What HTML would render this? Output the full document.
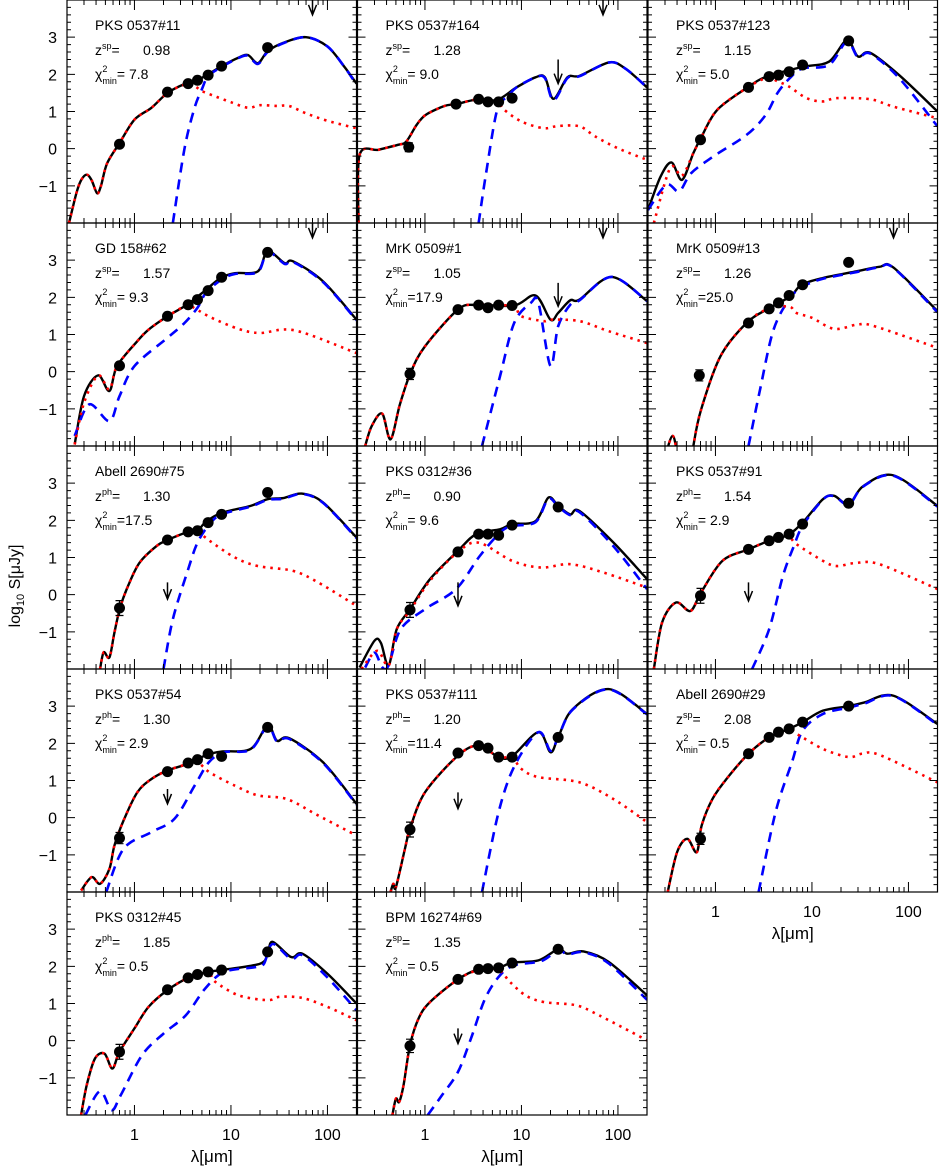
<!DOCTYPE html>
<html><head><meta charset="utf-8"><title>SED fits</title>
<style>
html,body{margin:0;padding:0;background:#fff;}
svg{display:block;font-family:"Liberation Sans","DejaVu Sans",sans-serif;}
</style></head>
<body>
<svg id="chart" width="940" height="1172" viewBox="0 0 940 1172" xmlns="http://www.w3.org/2000/svg">
<g id="layer"></g>
<text transform="translate(20,586) rotate(-90)" text-anchor="middle" font-size="16">log<tspan font-size="11" dy="4">10</tspan><tspan dy="-4"> S[μJy]</tspan></text>
</svg>
<script>
const names=["PKS 0537#11","PKS 0537#164","PKS 0537#123","GD 158#62","MrK 0509#1","MrK 0509#13","Abell 2690#75","PKS 0312#36","PKS 0537#91","PKS 0537#54","PKS 0537#111","Abell 2690#29","PKS 0312#45","BPM 16274#69"];
const zTypes=["sp","sp","sp","sp","sp","sp","ph","ph","ph","ph","ph","sp","ph","sp"];
const zVals=["0.98","1.28","1.15","1.57","1.05","1.26","1.30","0.90","1.54","1.30","1.20","2.08","1.85","1.35"];
const chiVals=[" 7.8"," 9.0"," 5.0"," 9.3","17.9","25.0","17.5"," 9.6"," 2.9"," 2.9","11.4"," 0.5"," 0.5"," 0.5"];
const yTicks=[-1,0,1,2,3];
const yTickLabels=["−1","0","1","2","3"];
const xTicks=[1,10,100];
const xTickLabels=["1","10","100"];

const blk1=[[0.21,-2],[0.25,-1.2],[0.28,-0.85],[0.32,-0.7],[0.36,-0.85],[0.41,-1.2],[0.45,-1.0],[0.52,-0.4],[0.7,0.15],[1.0,0.78],[1.5,1.1],[2.2,1.5],[3.3,1.74],[4.5,1.85],[5.8,2.0],[8,2.22],[12,2.45],[15,2.52],[19,2.3],[24,2.62],[35,2.85],[60,3.0],[100,2.75],[150,2.2],[200,1.75]];
const red1=[[0.21,-2],[0.25,-1.2],[0.28,-0.85],[0.32,-0.7],[0.36,-0.85],[0.41,-1.2],[0.45,-1.0],[0.52,-0.4],[0.7,0.15],[1.0,0.78],[1.5,1.1],[2.2,1.5],[3.3,1.72],[4.2,1.68],[5,1.55],[7,1.4],[10,1.25],[15,1.1],[20,1.17],[30,1.15],[40,1.15],[60,0.95],[100,0.75],[200,0.55]];
const blu1=[[2.5,-2],[3.3,0],[4.2,1.1],[5,1.6],[5.8,1.95],[8,2.2],[12,2.44],[15,2.5],[19,2.28],[24,2.6],[35,2.84],[60,3.0],[100,2.75],[150,2.2],[200,1.72]];
const pts1=[[0.7,0.12,0],[2.2,1.52,0],[3.6,1.75,0],[4.5,1.84,0],[5.8,1.98,0],[8,2.22,0],[24,2.72,0]];
const arr1=[[70,4.05,3.6]];

const blk2=[[0.205,-2],[0.21,-0.17],[0.33,-0.03],[0.52,0.1],[0.64,0.19],[0.82,0.64],[1.02,0.91],[1.6,1.15],[2.1,1.2],[3.6,1.33],[5.6,1.31],[8.9,1.65],[14,1.92],[17.5,1.92],[21.5,1.34],[30,1.92],[40,1.96],[81,2.32],[120,2.15],[200,1.65]];
const red2=[[0.205,-2],[0.21,-0.17],[0.33,-0.03],[0.52,0.1],[0.64,0.19],[0.82,0.64],[1.02,0.91],[1.6,1.15],[2.1,1.2],[3.6,1.33],[5.6,1.28],[6.6,1.05],[10,0.73],[17,0.55],[24,0.61],[40,0.6],[58,0.33],[100,0.01],[200,-0.3]];
const blu2=[[3.6,-2],[4.3,-0.66],[5.6,1.04],[7.2,1.4],[8.9,1.65],[14,1.92],[17.5,1.9],[21.5,1.3],[30,1.9],[40,1.95],[81,2.32],[120,2.15],[200,1.65]];
const pts2=[[0.68,0.04,0.12],[2.1,1.2,0],[3.6,1.33,0],[4.5,1.26,0],[5.8,1.26,0],[8,1.36,0]];
const arr2=[[70,4.05,3.6],[24,2.4,1.75]];

const blk3=[[0.2,-1.65],[0.27,-0.75],[0.35,-0.37],[0.45,-0.84],[0.59,-0.12],[0.72,0.33],[1.04,1.04],[2.1,1.63],[3.4,1.94],[8,2.2],[15,2.34],[23,2.92],[30,2.48],[40,2.58],[80,1.98],[200,1.0]];
const red3=[[0.23,-2],[0.34,-0.52],[0.45,-0.73],[0.59,-0.12],[0.72,0.33],[1.04,1.04],[2.1,1.63],[3.4,1.9],[4.5,1.8],[5.8,1.67],[8.8,1.36],[13,1.27],[18,1.36],[40,1.33],[70,1.13],[200,0.82]];
const blu3=[[0.2,-1.65],[0.31,-0.97],[0.42,-1.15],[0.56,-0.66],[0.95,-0.21],[2.1,0.37],[3.3,0.9],[4.4,1.5],[5.9,1.9],[8,2.16],[15,2.25],[23,2.88],[30,2.46],[40,2.56],[80,1.9],[200,0.6]];
const pts3=[[0.7,0.24,0],[2.2,1.65,0],[3.6,1.94,0],[4.5,1.98,0],[5.8,2.07,0],[8,2.25,0],[24,2.9,0]];
const arr3=[];

const blk4=[[0.24,-1.96],[0.3,-0.66],[0.42,-0.1],[0.55,-0.52],[0.66,0.15],[1.07,0.82],[1.4,1.13],[2.2,1.49],[3.5,1.8],[5.5,2.2],[7.8,2.52],[11,2.65],[19,2.7],[24,3.24],[36,2.92],[44,2.97],[90,2.43],[200,1.4]];
const red4=[[0.24,-1.96],[0.3,-0.84],[0.42,-0.1],[0.55,-0.48],[0.66,0.15],[1.07,0.82],[1.4,1.13],[2.2,1.49],[3.5,1.78],[4.3,1.69],[6.3,1.45],[12,1.15],[20,1.04],[46,1.11],[200,0.5]];
const blu4=[[0.24,-1.73],[0.34,-0.88],[0.55,-1.33],[0.7,-0.66],[1,0.15],[2.2,0.91],[3.3,1.31],[4.5,1.72],[5.5,2.12],[8,2.48],[11,2.63],[19,2.68],[24,3.22],[36,2.9],[44,2.95],[90,2.41],[200,1.38]];
const pts4=[[0.7,0.16,0],[2.2,1.49,0],[3.6,1.8,0],[4.5,1.94,0],[5.8,2.18,0],[8,2.54,0],[24,3.21,0]];
const arr4=[[70,4.05,3.6]];

const blk5=[[0.24,-2],[0.28,-1.47],[0.36,-1.13],[0.44,-1.82],[0.55,-0.88],[0.71,-0.03],[1,0.68],[2.2,1.67],[3.4,1.8],[8.4,1.78],[14,2.05],[20,1.4],[24,1.58],[32,1.92],[40,1.94],[86,2.55],[200,1.9]];
const red5=[[0.24,-2],[0.28,-1.47],[0.36,-1.13],[0.44,-1.82],[0.55,-0.88],[0.71,-0.03],[1,0.68],[2.2,1.67],[3.4,1.8],[8,1.76],[10,1.49],[17,1.36],[20,1.4],[40,1.36],[80,1.09],[200,0.77]];
const blu5=[[3.9,-2],[6,-0.12],[8.4,1.31],[12.5,1.85],[15,1.85],[20,0.15],[24,1.22],[32,1.8],[40,1.92],[86,2.55],[200,1.9]];
const pts5=[[0.7,-0.06,0.15],[2.2,1.67,0],[3.6,1.79,0],[4.5,1.72,0],[5.8,1.79,0],[8,1.78,0]];
const arr5=[[70,4.05,3.6],[24,2.39,1.76]];

const blk6=[[0.3,-2.3],[0.36,-1.73],[0.42,-2.3],[0.55,-2.6],[0.59,-2],[0.71,-1.02],[1.13,0.42],[2.1,1.31],[3.5,1.69],[6,2.03],[7.8,2.34],[13,2.52],[29,2.7],[50,2.82],[70,2.8],[200,1.63]];
const red6=[[0.3,-2.3],[0.36,-1.73],[0.42,-2.3],[0.55,-2.6],[0.59,-2],[0.71,-1.02],[1.13,0.42],[2.1,1.31],[3.5,1.69],[5.8,1.75],[6.9,1.58],[10,1.45],[17,1.15],[30,1.27],[45,1.22],[200,0.64]];
const blu6=[[2.2,-2],[2.9,-0.48],[4,1.13],[6,2.0],[8.5,2.32],[13,2.5],[29,2.68],[50,2.81],[70,2.79],[200,1.6]];
const pts6=[[0.68,-0.1,0.15],[2.2,1.31,0],[3.6,1.69,0],[4.5,1.85,0],[5.8,2.05,0],[8,2.34,0],[24,2.94,0]];
const arr6=[[70,4.05,3.6]];

const blk7=[[0.44,-2],[0.48,-1.55],[0.55,-1.69],[0.62,-1.02],[0.71,-0.35],[0.86,0.24],[1.13,0.86],[1.7,1.31],[2.2,1.47],[3.6,1.69],[4.5,1.72],[5.5,1.96],[8,2.2],[16,2.39],[24,2.57],[35,2.6],[54,2.72],[90,2.48],[200,1.54]];
const red7=[[0.44,-2],[0.48,-1.55],[0.55,-1.69],[0.62,-1.02],[0.71,-0.35],[0.86,0.24],[1.13,0.86],[1.7,1.31],[2.2,1.47],[3.6,1.69],[4.5,1.7],[6,1.45],[11,1.0],[19,0.77],[44,0.64],[80,0.33],[200,-0.3]];
const blu7=[[2,-2],[2.5,-0.66],[3.6,0.68],[4.5,1.4],[6,1.9],[8,2.16],[16,2.37],[24,2.55],[35,2.58],[54,2.71],[90,2.47],[200,1.52]];
const pts7=[[0.7,-0.36,0.2],[2.2,1.47,0],[3.6,1.69,0],[4.5,1.72,0],[5.8,1.94,0],[8,2.16,0],[24,2.75,0]];
const arr7=[[2.2,0.33,-0.12]];

const blk8=[[0.21,-1.96],[0.3,-1.24],[0.35,-1.3],[0.42,-1.91],[0.51,-0.93],[0.7,-0.39],[1.13,0.42],[2.2,1.18],[3.4,1.63],[6,1.76],[8,1.9],[14,1.98],[19,2.61],[24,2.39],[32,2.16],[40,2.25],[90,1.4],[200,0.42]];
const red8=[[0.22,-2],[0.32,-1.51],[0.42,-1.91],[0.51,-0.93],[0.7,-0.43],[1.13,0.38],[2.2,1.15],[3.6,1.4],[8,0.91],[16,0.73],[32,0.82],[70,0.6],[200,0.19]];
const blu8=[[0.24,-1.96],[0.3,-1.56],[0.36,-1.95],[0.42,-1.9],[0.56,-0.93],[1.0,-0.39],[2.1,0.15],[3.7,1.04],[6,1.67],[8,1.85],[14,1.95],[19,2.58],[24,2.37],[32,2.14],[40,2.22],[90,1.3],[200,0.15]];
const pts8=[[0.7,-0.41,0.2],[2.2,1.15,0],[3.6,1.63,0],[4.5,1.63,0],[5.8,1.6,0],[8,1.87,0],[24,2.36,0]];
const arr8=[[2.2,0.33,-0.3]];

const blk9=[[0.23,-2],[0.28,-0.75],[0.39,-0.21],[0.55,-0.44],[0.71,0.06],[1.18,0.91],[2.2,1.22],[3.6,1.45],[5.6,1.6],[8,1.94],[13,2.57],[17,2.66],[24,2.43],[34,2.92],[70,3.21],[200,2.39]];
const red9=[[0.23,-2],[0.28,-0.75],[0.39,-0.21],[0.55,-0.44],[0.71,0.06],[1.18,0.91],[2.2,1.22],[3.6,1.45],[5.6,1.58],[6.9,1.36],[13,0.91],[18,0.77],[28,0.85],[50,0.82],[200,0.15]];
const blu9=[[2.4,-2],[3.6,-0.93],[5,0.5],[6.5,1.31],[8,1.85],[13,2.56],[17,2.65],[24,2.42],[34,2.91],[70,3.2],[200,2.37]];
const pts9=[[0.7,-0.03,0.2],[2.2,1.22,0],[3.6,1.45,0],[4.5,1.54,0],[5.8,1.63,0],[8,1.9,0],[24,2.46,0]];
const arr9=[[2.2,0.33,-0.17]];

const blk10=[[0.28,-1.96],[0.36,-1.6],[0.44,-1.78],[0.55,-1.38],[0.62,-0.75],[0.77,-0.08],[1.07,0.68],[1.5,1.04],[2.2,1.27],[3.6,1.45],[5.6,1.69],[8,1.78],[16,1.85],[24,2.48],[30,2.07],[40,2.14],[90,1.49],[200,0.37]];
const red10=[[0.28,-1.96],[0.36,-1.6],[0.44,-1.78],[0.55,-1.38],[0.62,-0.75],[0.77,-0.08],[1.07,0.68],[1.5,1.04],[2.2,1.27],[3.6,1.45],[4.5,1.5],[6,1.22],[11,0.86],[19,0.6],[38,0.5],[80,0.06],[200,-0.48]];
const blu10=[[0.51,-2],[0.77,-0.84],[1.5,-0.39],[2.6,-0.03],[4.2,0.86],[5.9,1.49],[8.5,1.76],[16,1.83],[24,2.46],[30,2.05],[40,2.12],[90,1.47],[200,0.35]];
const pts10=[[0.7,-0.55,0.15],[2.2,1.24,0],[3.6,1.47,0],[4.5,1.56,0],[5.8,1.72,0],[8,1.65,0],[24,2.43,0]];
const arr10=[[2.2,0.77,0.37]];

const blk11=[[0.44,-2],[0.47,-1.78],[0.5,-1.87],[0.62,-0.84],[0.7,-0.3],[1,0.68],[2.2,1.67],[3.6,1.94],[5.8,1.63],[8,1.65],[15,2.3],[20,1.76],[24,2.16],[34,2.92],[80,3.46],[200,2.79]];
const red11=[[0.44,-2],[0.47,-1.78],[0.5,-1.87],[0.62,-0.84],[0.7,-0.3],[1,0.68],[2.2,1.67],[3.6,1.94],[5.8,1.63],[8,1.62],[10,1.31],[15,1.09],[40,0.95],[90,0.5],[200,-0.12]];
const blu11=[[3.9,-2],[5.8,0.15],[8.5,1.4],[15,2.3],[20,1.8],[24,2.16],[34,2.91],[80,3.45],[200,2.78]];
const pts11=[[0.7,-0.32,0.2],[2.2,1.74,0],[3.6,1.94,0],[4.5,1.87,0],[5.8,1.63,0],[8,1.63,0],[24,2.16,0]];
const arr11=[[2.2,0.68,0.24]];

const blk12=[[0.32,-2],[0.4,-0.93],[0.51,-0.57],[0.64,-0.93],[0.72,-0.21],[0.93,0.5],[1.3,1.04],[2.2,1.72],[3.6,2.16],[5.8,2.39],[8,2.57],[13,2.88],[24,3.0],[35,3.1],[70,3.28],[200,2.52]];
const red12=[[0.32,-2],[0.4,-0.93],[0.51,-0.57],[0.64,-0.93],[0.72,-0.21],[0.93,0.5],[1.3,1.04],[2.2,1.72],[3.6,2.16],[5.8,2.36],[7,2.25],[13,1.85],[24,1.63],[33,1.72],[50,1.69],[200,0.95]];
const blu12=[[2.8,-2],[4.2,0.15],[6.2,1.49],[8,2.34],[13,2.79],[24,2.96],[35,3.07],[70,3.27],[200,2.5]];
const pts12=[[0.7,-0.57,0.15],[2.2,1.72,0],[3.6,2.16,0],[4.5,2.3,0],[5.8,2.39,0],[8,2.57,0],[24,3.0,0]];
const arr12=[];

const blk13=[[0.28,-2],[0.32,-1.2],[0.39,-0.48],[0.49,-0.35],[0.59,-0.75],[0.7,-0.3],[1,0.33],[1.4,0.91],[2.2,1.36],[3.6,1.69],[5.8,1.85],[8,1.9],[20,2.07],[24,2.34],[27,2.66],[42,2.25],[55,2.34],[100,1.8],[200,1.0]];
const red13=[[0.28,-2],[0.32,-1.2],[0.39,-0.48],[0.49,-0.35],[0.59,-0.75],[0.7,-0.3],[1,0.33],[1.4,0.91],[2.2,1.36],[3.6,1.69],[5.8,1.82],[6.9,1.58],[12,1.22],[24,1.09],[32,1.18],[55,1.15],[100,0.91],[200,0.55]];
const blu13=[[0.31,-2],[0.44,-1.36],[0.58,-1.87],[0.72,-1.47],[1.2,-0.39],[2,0.19],[3.4,0.68],[5.4,1.4],[8.5,1.85],[18,1.98],[22,2.07],[27,2.6],[42,2.2],[55,2.3],[100,1.7],[200,0.82]];
const pts13=[[0.7,-0.3,0.2],[2.2,1.37,0],[3.6,1.69,0],[4.5,1.78,0],[5.8,1.85,0],[8,1.9,0],[24,2.39,0]];
const arr13=[];

const blk14=[[0.46,-2],[0.5,-1.56],[0.54,-1.65],[0.6,-1.2],[0.7,-0.12],[0.86,0.6],[1.13,1.04],[2.2,1.65],[3.6,1.92],[5.8,1.96],[8,2.1],[15,2.16],[24,2.46],[30,2.34],[44,2.4],[80,2.12],[200,1.22]];
const red14=[[0.46,-2],[0.5,-1.56],[0.54,-1.65],[0.6,-1.2],[0.7,-0.12],[0.86,0.6],[1.13,1.04],[2.2,1.65],[3.6,1.9],[5.8,1.9],[7.6,1.58],[11,1.22],[17,1.04],[37,0.95],[64,0.68],[200,0.01]];
const blu14=[[1.07,-2],[1.5,-1.47],[2.2,-0.84],[3,0.06],[4.2,1.13],[6,1.76],[8.5,2.03],[16,2.14],[24,2.43],[30,2.32],[44,2.38],[80,2.08],[200,1.1]];
const pts14=[[0.7,-0.14,0.18],[2.2,1.65,0],[3.6,1.92,0],[4.5,1.94,0],[5.8,1.96,0],[8,2.09,0],[24,2.46,0]];
const arr14=[[2.2,0.33,-0.08]];

const blacks=[blk1,blk2,blk3,blk4,blk5,blk6,blk7,blk8,blk9,blk10,blk11,blk12,blk13,blk14];
const reds=[red1,red2,red3,red4,red5,red6,red7,red8,red9,red10,red11,red12,red13,red14];
const blues=[blu1,blu2,blu3,blu4,blu5,blu6,blu7,blu8,blu9,blu10,blu11,blu12,blu13,blu14];
const points=[pts1,pts2,pts3,pts4,pts5,pts6,pts7,pts8,pts9,pts10,pts11,pts12,pts13,pts14];
const arrows=[arr1,arr2,arr3,arr4,arr5,arr6,arr7,arr8,arr9,arr10,arr11,arr12,arr13,arr14];

const NS="http://www.w3.org/2000/svg";
const colL=[67,357.5,648], PW=289.5, rowT=[0,223,446,669,892], PH=223;
const XMIN=Math.log10(0.2), XMAX=Math.log10(200), YMIN=-2, YMAX=4;
const layer=document.getElementById('layer');
function mk(tag,attrs,parent){const e=document.createElementNS(NS,tag);for(const k in attrs)e.setAttribute(k,attrs[k]);(parent||layer).appendChild(e);return e;}
function xs(l,left){return left+(Math.log10(l)-XMIN)/(XMAX-XMIN)*PW;}
function ys(v,top){return top+(YMAX-v)/(YMAX-YMIN)*PH;}
function pathD(arr,left,top){
  const p=arr.map(a=>[xs(a[0],left),ys(a[1],top)]);
  let d="M"+p[0][0].toFixed(2)+","+p[0][1].toFixed(2);
  for(let i=0;i<p.length-1;i++){
    const p0=p[i-1]||p[i],p1=p[i],p2=p[i+1],p3=p[i+2]||p2;
    const t=0.16;
    const c1=[p1[0]+(p2[0]-p0[0])*t,p1[1]+(p2[1]-p0[1])*t];
    const c2=[p2[0]-(p3[0]-p1[0])*t,p2[1]-(p3[1]-p1[1])*t];
    d+=" C"+c1[0].toFixed(2)+","+c1[1].toFixed(2)+" "+c2[0].toFixed(2)+","+c2[1].toFixed(2)+" "+p2[0].toFixed(2)+","+p2[1].toFixed(2);
  }
  return d;
}
const defs=mk('defs',{});
for(let i=0;i<14;i++){
  const c=i%3, r=Math.floor(i/3);
  const left=colL[c], top=rowT[r];
  const cp=mk('clipPath',{id:'clip'+i},defs);
  mk('rect',{x:left,y:top,width:PW,height:PH},cp);
  const g=mk('g',{});
  
  
  const cg=mk('g',{'clip-path':'url(#clip'+i+')'},g);
  const bl=mk('path',{d:pathD(blacks[i],left,top),fill:'none',stroke:'#000','stroke-width':2.4,'stroke-linejoin':'round'},cg);
  
  
  const bu=mk('path',{d:pathD(blues[i],left,top),fill:'none',stroke:'#0000ff','stroke-width':2.6,'stroke-dasharray':'10,7'},cg);
  
  
  const rd=mk('path',{d:pathD(reds[i],left,top),fill:'none',stroke:'#ff0000','stroke-width':2.6,'stroke-dasharray':'2.5,5'},cg);
  
  
  points[i].forEach(p=>{
    const x=xs(p[0],left), y=ys(p[1],top);
    if(p[2]>0){
      const y1=ys(p[1]+p[2],top), y2=ys(p[1]-p[2],top);
      mk('path',{d:`M${x},${y1}V${y2}M${x-4},${y1}H${x+4}M${x-4},${y2}H${x+4}`,stroke:'#000','stroke-width':1.2,fill:'none'},cg);
    }
    const pt=mk('circle',{cx:x,cy:y,r:5.5,fill:'#000'},cg);
    
    
  });
  arrows[i].forEach(a=>{
    const x=xs(a[0],left), y1=ys(a[1],top), y2=ys(a[2],top);
    const ar=mk('path',{d:`M${x},${y1}V${y2}M${x-4},${y2-10}L${x},${y2}L${x+4},${y2-10}`,stroke:'#000','stroke-width':1.5,fill:'none'},cg);
    
    
  });
  // frame
  const fr=mk('rect',{x:left,y:top,width:PW,height:PH,fill:'none',stroke:'#000','stroke-width':1.2},g);
  
  
  // ticks
  let td="";
  for(let v=-2;v<=4.001;v+=0.2){
    const y=ys(v,top); const major=Math.abs(v-Math.round(v))<0.01; const L=major?8:4;
    td+=`M${left},${y}h${L}M${left+PW},${y}h${-L}`;
  }
  for(let dec=0.1;dec<=100;dec*=10){
    for(let m=1;m<10;m++){
      const l=dec*m; if(l<0.2-1e-9||l>200+1e-9)continue;
      const x=xs(l,left); const L=(m===1)?10:5;
      td+=`M${x},${top+PH}v${-L}M${x},${top}v${L}`;
    }
  }
  mk('path',{d:td,stroke:'#000','stroke-width':1,fill:'none'},g);
  // labels
  const tx=left+28;
  const t1=mk('text',{x:tx,y:top+30,'font-size':14},g);
  t1.textContent=names[i];
  
  
  const t2=mk('text',{x:tx,y:top+55,'font-size':14},g);
  
  
  t2.innerHTML=`z<tspan font-size="9" dy="-6">${zTypes[i]}</tspan><tspan dy="6">=</tspan><tspan x="${left+76}">${zVals[i]}</tspan>`;
  const t3=mk('text',{x:tx,y:top+79,'font-size':14},g);
  
  
  t3.innerHTML=`χ<tspan font-size="9" dy="-7">2</tspan><tspan font-size="9" dx="-5" dy="12">min</tspan><tspan dy="-5">=${chiVals[i].replace(/ /g,'\u00a0')}</tspan>`;
  // y tick labels
  if(c===0){
    yTicks.forEach((v,k)=>{
      const t=mk('text',{x:left-10,y:ys(v,top)+6,'font-size':16,'text-anchor':'end'},g);
      t.textContent=yTickLabels[k];
      
      
    });
  }
  // x tick labels
  if(r===4 || (r===3 && c===2)){
    xTicks.forEach((v,k)=>{
      const t=mk('text',{x:xs(v,left),y:top+PH+25,'font-size':16,'text-anchor':'middle'},g);
      t.textContent=xTickLabels[k];
      
      
    });
    const t=mk('text',{x:left+PW/2,y:top+PH+47,'font-size':17,'text-anchor':'middle'},g);
    t.textContent='λ[μm]';
    
    
  }
}
</script>
</body></html>
